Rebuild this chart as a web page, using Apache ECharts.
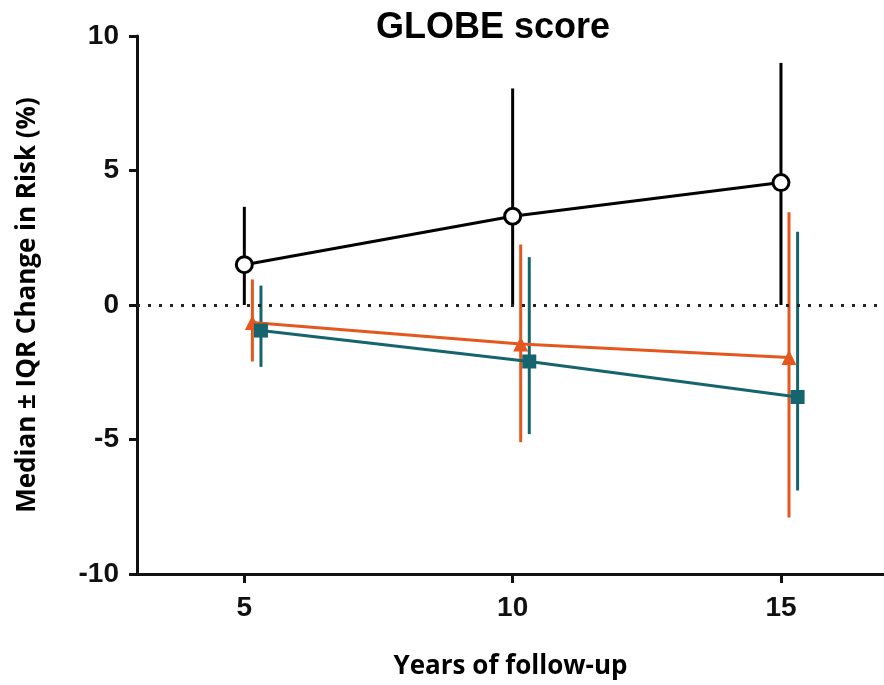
<!DOCTYPE html>
<html>
<head>
<meta charset="utf-8">
<script src="https://cdn.jsdelivr.net/npm/echarts@6/dist/echarts.min.js"></script>
<style>html,body{margin:0;padding:0;background:#fff;}#c{width:884px;height:685px;}</style>
</head>
<body>
<div id="c"></div>
<script>
var years = [5, 10, 15];
var xTicks = [5, 10, 15];
var yTicks = [-10, -5, 0, 5, 10];

var blackMedian = [1.5, 3.3, 4.55];
var blackLow = [0, 0, 0];
var blackHigh = [3.65, 8.05, 9.0];

var orangeMedian = [-0.65, -1.45, -1.95];
var orangeLow = [-2.1, -5.1, -7.9];
var orangeHigh = [0.95, 2.25, 3.45];

var tealMedian = [-0.95, -2.1, -3.42];
var tealLow = [-2.3, -4.8, -6.9];
var tealHigh = [0.72, 1.78, 2.72];

var BLACK = '#000000', ORANGE = '#E4571E', TEAL = '#16646E';
var OFF_BLACK = 0, OFF_ORANGE = 0.15, OFF_TEAL = 0.31;

function pts(med, off) { return years.map(function (y, i) { return [y + off, med[i]]; }); }
function bars(low, high, off) { return years.map(function (y, i) { return [y + off, low[i], high[i]]; }); }

function errSeries(low, high, off, color, z) {
  return {
    type: 'custom', z: z, silent: true,
    data: bars(low, high, off),
    encode: { x: 0, y: [1, 2] },
    renderItem: function (params, api) {
      var a = api.coord([api.value(0), api.value(1)]);
      var b = api.coord([api.value(0), api.value(2)]);
      return { type: 'line', shape: { x1: a[0], y1: a[1], x2: b[0], y2: b[1] },
        style: { stroke: color, lineWidth: 3 } };
    }
  };
}

var tickFont = { fontFamily: '"Liberation Sans Narrow", "Liberation Sans", Arial, sans-serif', fontWeight: 'bold', fontSize: 28, color: '#111' };

var chart = echarts.init(document.getElementById('c'), null, { renderer: 'canvas' });
chart.setOption({
  animation: false,
  backgroundColor: '#fff',
  title: {
    text: 'GLOBE score', left: 488, top: 5, textAlign: 'center',
    textStyle: { fontFamily: '"Liberation Sans", Arial, sans-serif', fontWeight: 'bold', fontSize: 36, color: '#000' }
  },
  grid: { left: 137, right: 0, top: 36, bottom: 108 },
  xAxis: {
    type: 'value', min: 3, max: 16.92,
    name: 'Years of follow-up', nameLocation: 'middle', nameGap: 80,
    nameTextStyle: { fontFamily: '"Open Sans", Lato, sans-serif', fontWeight: 'bold', fontSize: 26, color: '#000' },
    axisLine: { show: true, onZero: false, lineStyle: { color: '#111', width: 3 } },
    axisTick: { show: true, length: 9, customValues: xTicks, lineStyle: { color: '#111', width: 3 } },
    axisLabel: Object.assign({ margin: 20, customValues: xTicks }, tickFont),
    splitLine: { show: false }
  },
  yAxis: {
    type: 'value', min: -10, max: 10, interval: 5,
    name: 'Median \u00b1 IQR Change in Risk (%)', nameLocation: 'middle', nameGap: 96,
    nameTextStyle: { fontFamily: '"Open Sans", Lato, sans-serif', fontWeight: 'bold', fontSize: 26, color: '#000' },
    axisLine: { show: true, onZero: false, lineStyle: { color: '#111', width: 3 } },
    axisTick: { show: true, length: 8, lineStyle: { color: '#111', width: 3 } },
    axisLabel: Object.assign({ margin: 18 }, tickFont),
    splitLine: { show: false }
  },
  series: [
    {
      type: 'line', data: [], silent: true,
      markLine: {
        symbol: 'none', silent: true, label: { show: false },
        lineStyle: { color: '#222', width: 3, type: [3, 8] },
        data: [{ yAxis: 0 }]
      }
    },
    errSeries(orangeLow, orangeHigh, OFF_ORANGE, ORANGE, 2),
    errSeries(tealLow, tealHigh, OFF_TEAL, TEAL, 2),
    errSeries(blackLow, blackHigh, OFF_BLACK, BLACK, 3),
    {
      type: 'line', z: 4, data: pts(orangeMedian, OFF_ORANGE),
      lineStyle: { color: ORANGE, width: 3 },
      symbol: 'triangle', symbolSize: 15,
      itemStyle: { color: ORANGE, borderWidth: 0 }
    },
    {
      type: 'line', z: 4, data: pts(tealMedian, OFF_TEAL),
      lineStyle: { color: TEAL, width: 3 },
      symbol: 'rect', symbolSize: 14,
      itemStyle: { color: TEAL, borderWidth: 0 }
    },
    {
      type: 'line', z: 5, data: pts(blackMedian, OFF_BLACK),
      lineStyle: { color: BLACK, width: 3 },
      symbol: 'circle', symbolSize: 16,
      itemStyle: { color: '#fff', borderColor: BLACK, borderWidth: 3 }
    }
  ]
});
</script>
</body>
</html>
